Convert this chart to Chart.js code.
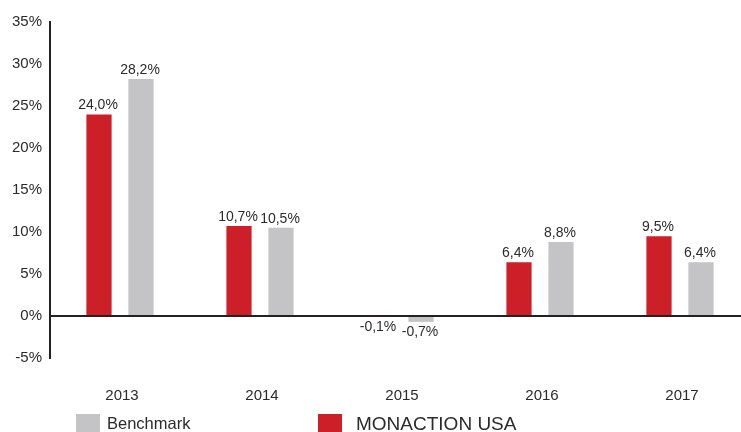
<!DOCTYPE html>
<html>
<head>
<meta charset="utf-8">
<script src="https://cdn.jsdelivr.net/npm/chart.js@4/dist/chart.umd.min.js"></script>
<style>
    html, body { margin: 0; padding: 0; background: #fff; overflow: hidden; }
    body { width: 741px; height: 432px; position: relative; font-family: "Liberation Sans", Arial, sans-serif; color: #2b2b2b; }
    #wrap { position: absolute; left: 0; top: 0; width: 750px; height: 432px; }
    .box { position: absolute; top: 414px; width: 24px; height: 20px; }
    .lbl { position: absolute; line-height: 1; white-space: nowrap; }
</style>
</head>
<body>
<div id="wrap"><canvas id="perfChart"></canvas></div>

<div class="box" style="left:76px; background:#c4c3c5;"></div>
<div class="lbl" style="left:107px; top:415px; font-size:16.5px;">Benchmark</div>
<div class="box" style="left:318px; background:#cc1f27;"></div>
<div class="lbl" style="left:356px; top:414px; font-size:19px;">MONACTION USA</div>

<script>
const years = ["2013", "2014", "2015", "2016", "2017"];
const monaction = [24.0, 10.7, -0.1, 6.4, 9.5];
const benchmark = [28.2, 10.5, -0.7, 8.8, 6.4];

const red = "#cc1f27";
const grey = "#c4c3c5";
const textColor = "#2b2b2b";

// 막대 위/아래 값 표시
const valueLabels = {
    id: "valueLabels",
    afterDatasetsDraw(chart) {
        const ctx = chart.ctx;
        ctx.save();
        ctx.font = "14px 'Liberation Sans', Arial, sans-serif";
        ctx.fillStyle = textColor;
        ctx.textAlign = "center";
        ctx.textBaseline = "middle";
        chart.data.datasets.forEach((ds, i) => {
            chart.getDatasetMeta(i).data.forEach((bar, j) => {
                const v = ds.data[j];
                const y = v >= 0 ? bar.y - 9 : bar.y + 10;
                ctx.fillText(v.toFixed(1).replace(".", ",") + "%", bar.x - 1, y);
            });
        });
        ctx.restore();
    }
};

new Chart(document.getElementById("perfChart"), {
    type: "bar",
    data: {
        labels: years,
        datasets: [
            {
                label: "MONACTION USA",
                data: monaction,
                backgroundColor: red
            },
            {
                label: "Benchmark",
                data: benchmark,
                backgroundColor: grey
            }
        ]
    },
    options: {
        responsive: true,
        maintainAspectRatio: false,
        animation: false,
        categoryPercentage: 0.6,
        barPercentage: 0.6,
        layout: { padding: { top: 22, right: 0, bottom: 0, left: 0 } },
        plugins: {
            legend: { display: false },
            tooltip: { enabled: false }
        },
        scales: {
            x: {
                grid: { display: false, drawTicks: false },
                border: { display: false },
                ticks: {
                    padding: 29,
                    labelOffset: 2,
                    color: textColor,
                    font: { family: "'Liberation Sans', Arial, sans-serif", size: 15 }
                },
                afterFit: scale => { scale.height = 74; }
            },
            y: {
                min: -5,
                max: 35,
                grid: {
                    drawTicks: false,
                    lineWidth: 2,
                    color: c => c.tick && c.tick.value === 0 ? "#222" : "transparent"
                },
                border: { display: true, color: "#222", width: 2 },
                ticks: {
                    stepSize: 5,
                    padding: 8,
                    color: textColor,
                    font: { family: "'Liberation Sans', Arial, sans-serif", size: 15 },
                    callback: v => v + "%"
                },
                afterFit: scale => { scale.width = 50; }
            }
        }
    },
    plugins: [valueLabels]
});
</script>
</body>
</html>
